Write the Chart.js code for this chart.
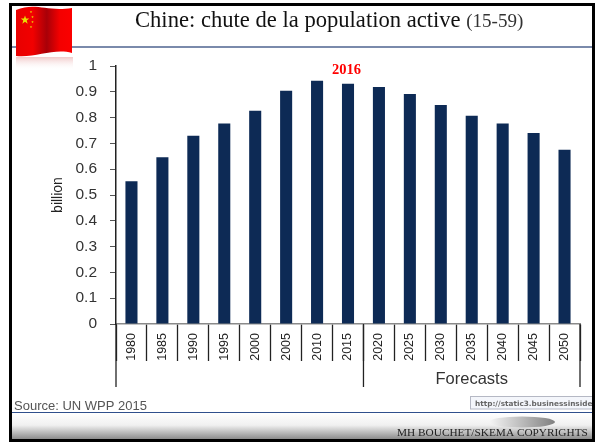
<!DOCTYPE html>
<html>
<head>
<meta charset="utf-8">
<title>Chine: chute de la population active</title>
<script src="https://cdn.jsdelivr.net/npm/chart.js@4/dist/chart.umd.min.js"></script>
<style>
html, body { margin: 0; padding: 0; background: #fff; }
canvas { display: block; }
</style>
</head>
<body>
<canvas id="chart" width="599" height="443"></canvas>
<script>
const years = ['1980', '1985', '1990', '1995', '2000', '2005', '2010', '2015',
    '2020', '2025', '2030', '2035', '2040', '2045', '2050'];
const population = [0.553, 0.646, 0.73, 0.777, 0.827, 0.904, 0.943, 0.931,
    0.919, 0.891, 0.849, 0.807, 0.777, 0.74, 0.675];
const titleMain = 'Chine: chute de la population active ';
const titleSub = '(15-59)';
const highlightLabel = '2016';
const forecastLabel = 'Forecasts';
const sourceLabel = 'Source: UN WPP 2015';
const urlLabel = 'http://static3.businessinside';
const copyrightLabel = 'MH BOUCHET/SKEMA COPYRIGHTS';

function drawFlag(ctx) {
    // waving flag top edge and bottom edge
    function shape(x, y, w, h) {
        ctx.beginPath();
        ctx.moveTo(x, y + 4);
        ctx.bezierCurveTo(x + 20, y - 4, x + 30, y + 6, x + w, y + 2);
        ctx.lineTo(x + w, y + h - 3);
        ctx.bezierCurveTo(x + 38, y + h - 8, x + 20, y + h + 2, x, y + h);
        ctx.closePath();
    }
    const g = ctx.createLinearGradient(16, 0, 72, 0);
    g.addColorStop(0, '#e80000');
    g.addColorStop(0.3, '#f20000');
    g.addColorStop(0.55, '#a80008');
    g.addColorStop(0.78, '#f40000');
    g.addColorStop(1, '#fb0000');
    const r = ctx.createLinearGradient(0, 56, 0, 70);
    r.addColorStop(0, 'rgba(225,140,140,0.55)');
    r.addColorStop(1, 'rgba(255,255,255,0)');
    ctx.fillStyle = r;
    ctx.fillRect(16, 57, 57, 13);
    ctx.fillStyle = g;
    shape(16, 6, 56, 50);
    ctx.fill();
    ctx.fillStyle = '#e8e000';
    star(ctx, 25, 20, 4.5);
    star(ctx, 31, 12, 1.3);
    star(ctx, 32.5, 17, 1.3);
    star(ctx, 32.5, 22, 1.3);
    star(ctx, 31, 27, 1.3);
}

function star(ctx, cx, cy, r) {
    ctx.beginPath();
    for (let i = 0; i < 10; i++) {
        const a = -Math.PI / 2 + i * Math.PI / 5;
        const d = i % 2 ? r * 0.4 : r;
        ctx.lineTo(cx + d * Math.cos(a), cy + d * Math.sin(a));
    }
    ctx.closePath();
    ctx.fill();
}

const slide = {
    id: 'slide',
    beforeDraw(chart) {
        const ctx = chart.ctx;
        ctx.save();
        ctx.fillStyle = '#fff';
        ctx.fillRect(0, 0, 599, 443);
        // footer band
        const g = ctx.createLinearGradient(0, 413, 0, 440);
        g.addColorStop(0, '#ffffff');
        g.addColorStop(0.45, '#f0f0f0');
        g.addColorStop(1, '#858585');
        ctx.fillStyle = g;
        ctx.fillRect(12, 413, 580, 27);
        const e = ctx.createLinearGradient(490, 0, 555, 0);
        e.addColorStop(0, '#f4f4f4');
        e.addColorStop(1, '#808080');
        ctx.fillStyle = e;
        ctx.beginPath();
        ctx.ellipse(522, 422, 33, 5.5, 0, 0, Math.PI * 2);
        ctx.fill();
        // rules under title and above footer
        ctx.fillStyle = '#7a8aab';
        ctx.fillRect(12, 46, 580, 2);
        ctx.fillStyle = '#2f4f8c';
        ctx.fillRect(12, 412, 580, 1);
        ctx.restore();
    },
    afterDraw(chart) {
        const ctx = chart.ctx;
        const x = chart.scales.x;
        const y = chart.scales.y;
        ctx.save();
        // long group separators under the axis
        ctx.strokeStyle = '#222';
        ctx.lineWidth = 1.3;
        [-0.5, 7.5, 14.5].forEach((v) => {
            const px = x.getPixelForValue(v);
            ctx.beginPath();
            ctx.moveTo(px, y.bottom);
            ctx.lineTo(px, 387);
            ctx.stroke();
        });

        ctx.textBaseline = 'alphabetic';
        ctx.fillStyle = '#333';
        ctx.font = '16.5px "Liberation Sans"';
        ctx.textAlign = 'center';
        ctx.fillText(forecastLabel, (x.getPixelForValue(7.5) + x.getPixelForValue(14.5)) / 2, 384);

        ctx.fillStyle = '#f00';
        ctx.font = 'bold 14.5px "Liberation Serif"';
        ctx.fillText(highlightLabel, x.getPixelForValue(7) - 1.5, 74);

        ctx.textAlign = 'left';
        ctx.fillStyle = '#111';
        ctx.font = '22.6px "Liberation Serif"';
        ctx.fillText(titleMain, 135, 27);
        const w = ctx.measureText(titleMain).width;
        ctx.fillStyle = '#333';
        ctx.font = '19px "Liberation Serif"';
        ctx.fillText(titleSub, 135 + w, 27);

        ctx.fillStyle = '#555';
        ctx.font = '13px "Liberation Sans"';
        ctx.fillText(sourceLabel, 14, 410);

        // link tooltip box
        ctx.fillStyle = '#f4f6fb';
        ctx.strokeStyle = '#b5b8c4';
        ctx.lineWidth = 1;
        ctx.fillRect(470.5, 396.5, 122, 12.5);
        ctx.strokeRect(470.5, 396.5, 122, 12.5);
        ctx.fillStyle = '#666';
        ctx.font = 'bold 7.3px "DejaVu Sans"';
        ctx.fillText(urlLabel, 475, 406);

        ctx.fillStyle = '#222';
        ctx.font = '11.3px "Liberation Serif"';
        ctx.fillText(copyrightLabel, 397, 436);

        drawFlag(ctx);

        // black slide frame
        ctx.fillStyle = '#000';
        ctx.fillRect(9, 3, 586, 3);
        ctx.fillRect(9, 3, 3, 439);
        ctx.fillRect(592, 3, 3, 439);
        ctx.fillRect(9, 439, 586, 3);
        ctx.restore();
    }
};

new Chart(document.getElementById('chart'), {
    type: 'bar',
    data: {
        labels: years,
        datasets: [{
            data: population,
            backgroundColor: '#0d2a55',
            barPercentage: 1,
            categoryPercentage: 0.39
        }]
    },
    plugins: [slide],
    options: {
        responsive: false,
        animation: false,
        layout: { padding: { top: 66, right: 19, left: 0, bottom: 0 } },
        plugins: {
            legend: { display: false },
            tooltip: { enabled: false }
        },
        scales: {
            x: {
                afterFit(scale) { scale.height = 119; },
                border: { color: '#8a8a8a', width: 1.5 },
                grid: { drawOnChartArea: false, tickLength: 37, tickColor: '#222', tickWidth: 1.3 },
                ticks: {
                    minRotation: 90,
                    maxRotation: 90,
                    padding: -28,
                    color: '#222',
                    font: { family: '"Liberation Sans"', size: 12.5 }
                }
            },
            y: {
                min: 0,
                max: 1,
                afterFit(scale) { scale.width = 116; },
                border: { color: '#222', width: 1.5 },
                grid: { drawOnChartArea: false, tickLength: 6, tickColor: '#555' },
                title: {
                    display: true,
                    text: 'billion',
                    color: '#222',
                    padding: { top: 50, bottom: 0 },
                    font: { family: '"Liberation Sans"', size: 14 }
                },
                ticks: {
                    stepSize: 0.1,
                    padding: 13,
                    color: '#333',
                    font: { family: '"Liberation Sans"', size: 15.5 },
                    callback: (v) => String(+v.toFixed(1))
                }
            }
        }
    }
});
</script>
</body>
</html>
